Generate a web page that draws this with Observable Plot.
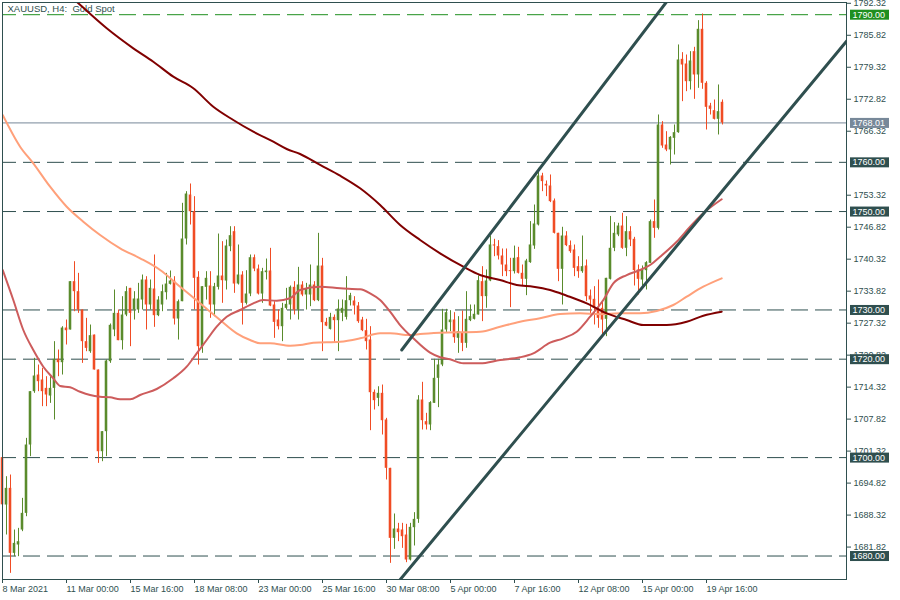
<!DOCTYPE html>
<html><head><meta charset="utf-8">
<script src="https://cdn.jsdelivr.net/npm/d3@7"></script>
<script src="https://cdn.jsdelivr.net/npm/@observablehq/plot@0.6"></script>
<style>body{margin:0;background:#fff;} #chart svg{display:block}</style>
</head><body><div id="chart"></div>
<script>
const title = "XAUUSD, H4:\u00a0 Gold Spot";

// H4 candles, bar index 0 = 8 Mar 2021 08:00
const opens = [
1700,1690.36,1693.75,1680.54,1682.24,1685.28,1688.67,1702.56,1713.40,1716.78,
1715.77,1714.07,1712.51,1714.07,1719.97,1719.29,1726.33,1725.93,1735.75,1733.72,
1729.99,1723.56,1721.52,1724.90,1717.80,1701.20,1705.27,1719.49,1725.93,1729.31,
1723.76,1728.97,1734.39,1729.99,1729.99,1732.02,1736.09,1731.01,1734.26,1728.84,
1731.01,1733.51,1735.21,1735.88,1728.16,1731.68,1744.42,1753.36,1749.97,1736.63,
1722.54,1734.60,1734.87,1731.01,1734.60,1736.90,1735.88,1742.86,1745.91,1735.27,
1737.10,1731.35,1733.24,1740.62,1738.32,1733.24,1737.58,1737.92,1731.01,1727.96,
1726.60,1730.33,1731.01,1734.60,1729.99,1735.07,1733.04,1733.04,1735.07,1731.89,
1738.93,1727.49,1726.06,1728.50,1727.83,1729.32,1728.50,1731.89,1731.82,1730.81,
1727.96,1725.79,1723.90,1713.26,1712.04,1713.06,1707.64,1697.82,1683.59,1685.49,
1685.29,1684.27,1679.19,1685.76,1687.45,1711.71,1707.30,1706.63,1711.03,1716.11,
1718.82,1725.93,1727.42,1727.96,1724.24,1725.39,1723.22,1727.83,1728.10,1728.98,
1735.75,1732.71,1735.89,1743.21,1742.87,1740.97,1739.14,1737.92,1737.79,1740.63,
1737.45,1736.23,1739.62,1743.00,1747.27,1757.23,1755.53,1755.19,1752.15,1745.58,
1738.26,1745.03,1743.07,1742.19,1738.80,1737.78,1738.94,1732.84,1732.16,1730.33,
1730.33,1728.10,1736.23,1742.53,1745.24,1747.06,1742.53,1745.91,1744.36,1738.12,
1736.09,1737.99,1739.48,1747.95,1746.59,1767.59,1763.52,1762.51,1764.88,1766.03,
1780.93,1779.98,1776.39,1782.49,1777.75,1787.03,1776.06,1771.45,1770.50,1768.74,
1772.20];
const highs = [
1707.6,1696.12,1696.46,1685.28,1685.62,1691.72,1703.91,1713.40,1720.17,1718.81,
1718.14,1716.44,1716.44,1723.56,1721.86,1726.60,1727.96,1735.75,1739.81,1737.44,
1729.99,1728.30,1726.94,1724.90,1717.80,1705.27,1719.83,1727.15,1734.06,1729.99,
1732.70,1734.73,1734.39,1733.72,1735.41,1737.10,1736.76,1736.09,1741.17,1732.70,
1735.07,1737.44,1737.92,1736.76,1732.02,1751.67,1754.04,1755.60,1753.02,1737.78,
1734.73,1737.78,1737.78,1735.41,1745.43,1743.88,1744.22,1746.92,1746.92,1743.20,
1737.78,1737.98,1741.17,1741.17,1739.13,1738.46,1740.35,1742.52,1731.68,1729.99,
1731.35,1734.39,1734.87,1735.75,1738.66,1735.75,1735.41,1739.14,1735.75,1745.57,
1740.49,1728.30,1729.32,1728.98,1732.03,1732.03,1736.77,1733.38,1732.70,1731.51,
1728.50,1728.10,1726.61,1713.74,1714.40,1714.75,1707.98,1697.82,1688.54,1686.64,
1686.64,1686.44,1686.64,1688.81,1712.59,1715.30,1709.00,1711.37,1719.97,1719.97,
1730.13,1730.13,1729.86,1729.45,1728.64,1729.79,1733.72,1731.01,1731.01,1736.91,
1738.80,1738.13,1745.03,1744.36,1744.09,1742.39,1742.39,1740.50,1742.98,1742.73,
1739.14,1740.29,1747.95,1751.33,1758.78,1757.77,1756.21,1757.43,1752.55,1745.58,
1746.80,1745.91,1744.02,1743.20,1740.83,1745.03,1740.16,1734.06,1734.74,1736.09,
1731.69,1736.43,1749.00,1747.74,1747.61,1749.64,1748.96,1746.93,1744.76,1739.14,
1738.94,1739.82,1748.28,1752.35,1769.62,1768.27,1766.23,1765.22,1767.59,1783.85,
1782.29,1781.81,1782.49,1783.37,1788.79,1790.15,1776.39,1771.99,1772.67,1775.72,
1772.67];
const lows = [
1676.5,1684.27,1676.48,1679.87,1679.87,1684.95,1687.99,1700.19,1713.06,1713.40,
1710.35,1710.35,1711.02,1707.64,1716.44,1716.78,1722.88,1725.93,1729.65,1729.31,
1719.15,1721.52,1721.19,1717.80,1698.83,1699.17,1700.19,1719.15,1724.57,1723.76,
1721.86,1728.64,1722.54,1727.96,1729.31,1729.99,1725.93,1729.99,1726.47,1728.64,
1729.65,1732.02,1735.07,1726.94,1723.89,1731.68,1743.20,1747.26,1729.99,1718.81,
1721.19,1732.02,1728.30,1728.64,1734.06,1731.35,1734.06,1741.84,1733.38,1735.07,
1726.94,1731.01,1732.70,1737.78,1733.04,1731.35,1736.09,1730.67,1724.23,1725.93,
1723.56,1729.99,1727.96,1728.98,1727.96,1732.70,1729.99,1730.67,1731.69,1731.69,
1721.53,1726.61,1725.93,1723.22,1721.53,1727.62,1727.96,1730.81,1728.98,1727.28,
1725.59,1721.87,1705.47,1709.67,1710.35,1704.59,1695.45,1678.51,1681.36,1682.92,
1681.56,1678.65,1679.00,1682.04,1686.64,1705.61,1705.61,1705.47,1711.03,1710.15,
1718.48,1725.25,1725.59,1723.22,1721.19,1721.53,1722.21,1727.63,1727.96,1728.98,
1727.63,1730.34,1735.75,1740.83,1740.16,1736.77,1736.77,1730.47,1737.31,1737.31,
1734.74,1732.91,1739.48,1742.32,1747.07,1754.04,1753.03,1751.81,1745.44,1735.75,
1731.01,1742.87,1741.51,1736.77,1736.43,1737.45,1731.69,1728.98,1726.95,1726.27,
1724.91,1724.58,1736.09,1741.85,1744.90,1742.32,1740.83,1742.87,1734.87,1733.04,
1734.74,1734.06,1739.48,1744.56,1746.25,1762.85,1762.17,1759.46,1761.49,1765.90,
1772.33,1774.36,1774.70,1772.80,1775.04,1774.84,1766.57,1769.62,1768.61,1765.56,
1767.59];
const closes = [
1690.4,1693.75,1680.54,1682.57,1682.91,1688.67,1702.56,1713.40,1716.58,1715.43,
1713.40,1712.72,1714.07,1719.97,1719.29,1726.33,1725.79,1735.75,1733.72,1729.99,
1723.56,1722.20,1724.78,1717.80,1701.20,1705.27,1719.63,1726.88,1729.31,1723.76,
1728.97,1733.72,1729.31,1732.23,1732.23,1736.09,1731.01,1734.39,1728.84,1732.02,
1733.72,1735.27,1735.88,1728.16,1731.68,1744.42,1753.56,1749.97,1736.43,1722.54,
1734.73,1736.43,1731.01,1734.73,1736.90,1735.95,1743.00,1745.10,1735.27,1737.10,
1731.35,1733.24,1740.62,1738.32,1733.24,1737.78,1737.92,1730.80,1727.48,1726.60,
1730.33,1731.14,1734.60,1729.99,1735.07,1733.04,1734.19,1735.07,1731.89,1738.93,
1727.42,1726.74,1728.50,1727.83,1730.20,1730.33,1731.89,1732.91,1730.81,1727.62,
1725.79,1723.56,1713.19,1711.57,1713.06,1707.50,1697.82,1683.59,1685.49,1684.75,
1683.93,1679.19,1685.83,1687.45,1711.70,1707.51,1706.63,1711.17,1716.11,1718.82,
1725.93,1729.45,1727.96,1724.37,1725.59,1723.22,1728.10,1728.64,1729.12,1735.96,
1732.71,1735.89,1743.21,1743.00,1740.97,1739.14,1737.79,1737.79,1740.50,1737.45,
1736.23,1739.95,1743.21,1747.47,1757.23,1756.08,1755.19,1752.01,1745.58,1738.26,
1745.03,1743.07,1741.85,1738.46,1737.78,1738.80,1732.70,1732.03,1730.33,1728.30,
1727.96,1736.43,1742.53,1745.57,1747.06,1742.53,1745.91,1744.22,1737.99,1736.23,
1738.12,1739.61,1747.95,1746.59,1767.59,1763.32,1762.51,1765.08,1766.03,1780.80,
1779.78,1776.39,1780.59,1777.75,1787.03,1776.06,1771.18,1770.77,1768.74,1770.30,
1768.01];

// time axis
const timeTickIndex = [0,16,32,48,64,80,96,112,128,144,160,176];
const timeTickLabels = ["8 Mar 2021","11 Mar 00:00","15 Mar 16:00","18 Mar 08:00","23 Mar 00:00","25 Mar 16:00","30 Mar 08:00","5 Apr 00:00","7 Apr 16:00","12 Apr 08:00","15 Apr 00:00","19 Apr 16:00"];
// price axis (1759.82 sits fully under the 1760.00 label in the original)
const priceTicks = [1792.32,1785.82,1779.32,1772.82,1766.32,1753.32,1746.82,1740.32,1733.82,1727.32,1720.82,1714.32,1707.82,1701.32,1694.82,1688.32,1681.82];
const levels = [1790, 1760, 1750, 1730, 1720, 1700, 1680];
const lastPrice = 1768.01;

// moving averages (bar index, value)
const maSlowIdx = [16.9,18.55,26.05,32.7,37.7,42.7,47.7,52.7,57.7,62.7,67.7,71.05,74.4,79.4,84.4,89.4,94.4,99.4,104.4,109.4,115.2,119.4,124.4,128.55,132.7,136.9,141.05,146.05,151.05,156.05,160.2,166.05,171.05,175.2,179.8];
const maSlowVal = [1793.86,1792.64,1787.24,1783.17,1780.45,1777.40,1775.04,1771.30,1768.60,1766.22,1764.19,1762.71,1761.69,1759.46,1757.28,1754.72,1751.33,1747.27,1744.22,1741.51,1738.79,1737.10,1736.09,1735.07,1734.73,1734.06,1732.90,1731.35,1729.32,1727.96,1726.94,1726.94,1727.61,1728.83,1729.65];
const maMidIdx = [0.05,4.4,7.7,11.9,16.05,20.2,24.4,29.4,34.4,39.4,44.4,49.4,54.4,58.55,61.9,64.4,66.9,71.9,74.4,77.7,84.4,89.4,94.4,96.9,101.9,104.4,109.4,119.4,124.4,129.4,134.4,139.4,144.4,149.4,154.4,159.4,163.55,167.7,171.05,175.2,179.8];
const maMidVal = [1769.62,1763.18,1759.80,1755.05,1750.98,1747.94,1745.23,1742.53,1740.50,1738.12,1734.73,1731.35,1727.96,1725.26,1723.90,1723.23,1723.23,1722.74,1722.88,1723.35,1723.55,1724.24,1725.26,1725.26,1724.90,1725.12,1725.38,1725.58,1726.60,1727.61,1728.31,1729.18,1729.32,1729.12,1729.32,1729.32,1729.79,1731.01,1732.70,1734.73,1736.43];
const maFastIdx = [0.05,2.7,5.2,7.7,10.2,12.7,14.4,16.9,19.4,21.9,24.4,26.9,29.4,31.9,34.4,38.55,42.7,46.05,48.55,51.05,53.55,56.05,59.4,62.7,65.2,68.55,71.9,74.4,79.4,84.4,89.4,91.9,94.4,96.9,99.4,102.7,106.9,109.4,111.9,115.2,119.4,124.4,129.4,132.7,136.9,140.2,143.55,146.9,150.2,152.7,156.05,159.4,161.9,164.4,168.55,171.9,175.2,179.8];
const maFastVal = [1738.12,1732.02,1725.93,1721.86,1718.47,1716.11,1714.55,1714.28,1713.39,1712.72,1712.37,1712.25,1711.84,1711.84,1712.72,1713.94,1716.11,1718.47,1721.19,1723.90,1726.60,1728.63,1729.99,1731.35,1732.02,1731.88,1732.37,1734.06,1734.73,1734.40,1734.20,1733.39,1732.02,1729.65,1726.94,1724.24,1721.32,1720.38,1719.97,1719.16,1719.16,1719.83,1720.38,1721.19,1723.35,1724.24,1725.58,1728.63,1732.02,1735.42,1737.10,1738.12,1739.14,1740.82,1743.87,1746.92,1749.64,1752.49];

// channel trendlines (bar index, price)
const upperLineIdx = [99.8, 170];
const upperLineVal = [1721.86, 1796.86];
const lowerLineIdx = [99, 212];
const lowerLineVal = [1674.8, 1785.6];

// ---- build ----
const UP = "#5a8b2c", DOWN = "#f04c24", SLATE = "#2f4f4f", GREEN = "#1f8f1f", GRAY = "#778899";
const FONT = "'Liberation Sans', Arial, sans-serif";
const candles = opens.map((o, i) => ({k: i, o, h: highs[i], l: lows[i], c: closes[i]}));
const candleColor = d => d.c >= d.o ? UP : DOWN;
const pts = (ks, vs) => ks.map((k, i) => ({k, v: vs[i]}));
const maSlow = pts(maSlowIdx, maSlowVal);
const maMid = pts(maMidIdx, maMidVal);
const maFast = pts(maFastIdx, maFastVal);
const upperLine = pts(upperLineIdx, upperLineVal);
const lowerLine = pts(lowerLineIdx, lowerLineVal);
const labelOf = new Map(timeTickIndex.map((k, i) => [k, timeTickLabels[i]]));

const chart = Plot.plot({
  width: 900, height: 600,
  marginLeft: 2, marginRight: 54, marginTop: 2, marginBottom: 21,
  style: {fontFamily: FONT, fontSize: "9px", color: SLATE, background: "#fff"},
  x: {type: "linear", domain: [0, 211], axis: null},
  y: {type: "linear", domain: [1675.23, 1792.479], axis: null},
  color: {type: "identity"},
  marks: [
    Plot.text([title], {frameAnchor: "top-left", dx: 5, dy: 3, fill: SLATE, fontSize: 9.5, text: d => d}),
    Plot.ruleY(levels, {y: d => d, stroke: d => d === 1790 ? GREEN : SLATE, strokeDasharray: "17,7", strokeDashoffset: 3}),
    Plot.ruleY([lastPrice], {y: d => d, stroke: GRAY}),
    Plot.ruleX(candles, {x: "k", y1: "l", y2: "h", stroke: candleColor, strokeWidth: 1}),
    Plot.rect(candles, {
      x1: d => d.k - 0.32, x2: d => d.k + 0.32,
      y1: d => Math.min(d.o, d.c),
      y2: d => Math.max(d.o, d.c, Math.min(d.o, d.c) + 0.2),
      fill: candleColor
    }),
    Plot.line(maMid, {x: "k", y: "v", stroke: "#ffa07a", strokeWidth: 2, curve: "monotone-x", clip: true}),
    Plot.line(maFast, {x: "k", y: "v", stroke: "#cd5c5c", strokeWidth: 2, curve: "monotone-x", clip: true}),
    Plot.line(maSlow, {x: "k", y: "v", stroke: "#800000", strokeWidth: 2, curve: "monotone-x", clip: true}),
    Plot.line(upperLine, {x: "k", y: "v", stroke: SLATE, strokeWidth: 3, clip: true}),
    Plot.line(lowerLine, {x: "k", y: "v", stroke: SLATE, strokeWidth: 3, clip: true}),
    Plot.frame({stroke: SLATE}),
    Plot.axisX({ticks: timeTickIndex, tickFormat: d => labelOf.get(d), anchor: "bottom", label: null, tickSize: 4, tickPadding: 2, textAnchor: "start", dx: 0, fontSize: 9, fill: SLATE, stroke: SLATE}),
    Plot.axisY({ticks: priceTicks, tickFormat: d => d.toFixed(2), anchor: "right", label: null, tickSize: 4, tickPadding: 3, fontSize: 9, fill: SLATE, stroke: SLATE})
  ]
});
document.getElementById("chart").appendChild(chart);

// price labels on the right axis, positioned with the chart's y scale
const ys = chart.scale("y");
const svg = d3.select(chart.tagName.toLowerCase() === "svg" ? chart : chart.querySelector("svg"));
const boxes = levels.map(v => ({v, fill: v === 1790 ? GREEN : SLATE})).concat([{v: lastPrice, fill: GRAY}]);
const g = svg.append("g").attr("font-family", FONT).attr("font-size", 9).attr("text-anchor", "start");
boxes.forEach(b => {
  const y = ys.apply(b.v) + 0.5;
  g.append("rect").attr("x", 850).attr("y", y - 5).attr("width", 39).attr("height", 10).attr("fill", b.fill);
  g.append("text").attr("x", 852.5).attr("y", y).attr("dy", "0.35em").attr("text-anchor", "start").attr("fill", "#fff").text(b.v.toFixed(2));
});
</script>
</body></html>
